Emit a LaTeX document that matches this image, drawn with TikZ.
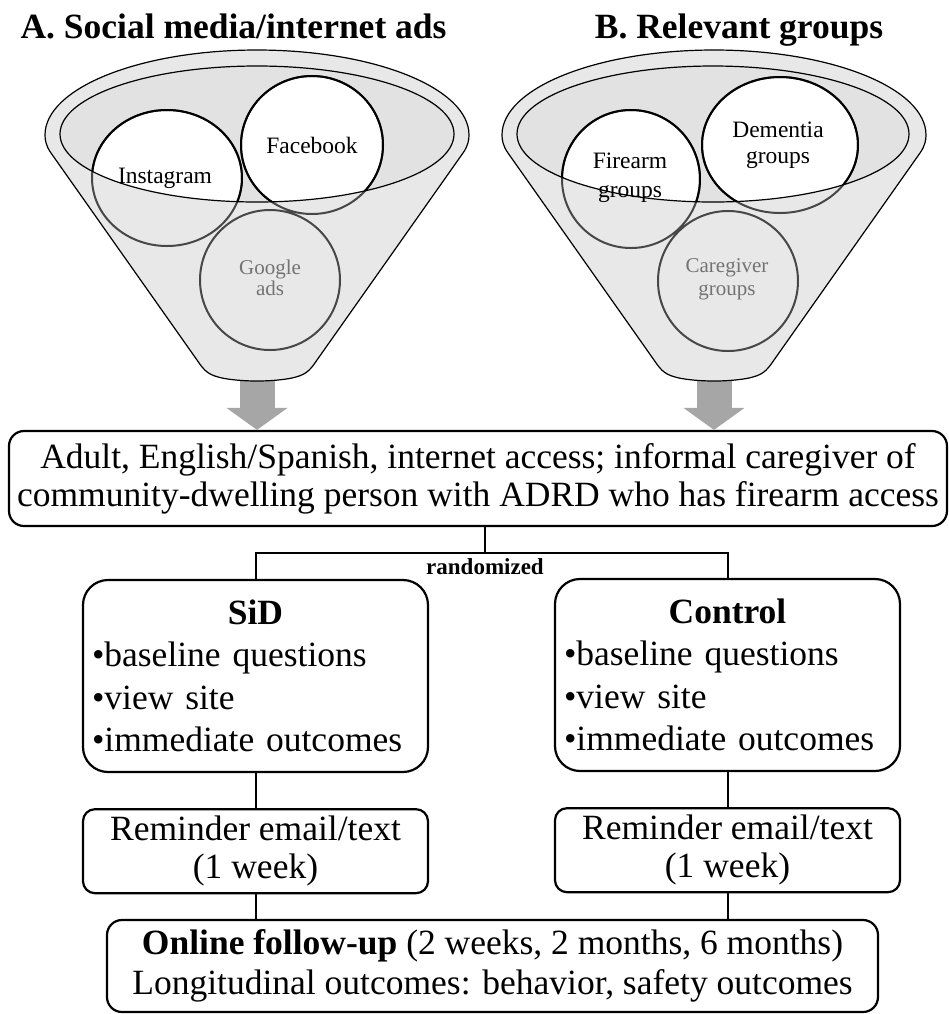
\documentclass[tikz,border=0pt]{standalone}
\usepackage{fontspec}
\setmainfont{Liberation Serif}
\usepackage{xcolor}
\usepackage{tikz}
\usetikzlibrary{positioning}
\usetikzlibrary{calc}
\usetikzlibrary{arrows.meta}
\definecolor{funnelgray}{gray}{0.91}
\definecolor{bowlgray}{gray}{0.885}
\definecolor{arrowgray}{gray}{0.65}
\definecolor{ringgray}{gray}{0.28}
\definecolor{labelgray}{gray}{0.45}
\tikzset{
	box/.style={
		draw, line width=1.1pt, fill=white, inner sep=0pt, align=center,
		font=\fontsize{17.75}{19}\selectfont
	},
	mainbox/.style={
		box, rounded corners=7.5pt, minimum width=469pt, minimum height=47.5pt
	},
	armbox/.style={
		box, rounded corners=12.5pt, minimum width=172.5pt, minimum height=96pt,
		text width=163.5pt, align=left, font=\fontsize{17.75}{21.25}\selectfont
	},
	remindbox/.style={
		box, rounded corners=6pt, minimum width=172.5pt, minimum height=42pt,
		font=\fontsize{17.75}{18.75}\selectfont
	},
	followbox/.style={
		box, rounded corners=7.5pt, minimum width=385.5pt, minimum height=46pt,
		font=\fontsize{17.75}{20}\selectfont
	},
	link/.style={
		draw, line width=1pt
	},
	feed/.style={
		draw=arrowgray, line width=17.5pt, -{Triangle[length=11pt, width=30pt]}
	},
	title/.style={
		font=\fontsize{17.75}{19}\selectfont\bfseries, anchor=base, inner sep=0pt
	},
	funnel/.style={
		draw, line width=0.6pt, fill=funnelgray
	},
	bowl/.style={
		draw, line width=0.6pt
	},
	ring/.style={
		draw=ringgray, line width=1pt
	},
	source/.style={
		font=\fontsize{11.75}{14}\selectfont, align=center, inner sep=0pt
	},
	minor/.style={
		source, text=labelgray, font=\fontsize{10.5}{10.5}\selectfont
	}
}
% outline of one funnel, centred on x=0
\def\funnelshape{(-212,135) arc[start angle=180, end angle=360, x radius=212, y radius=85]
	.. controls (212,140) and (211,146) .. (206,153)
	-- (60,360) .. controls (52,372) and (48,375) .. (35,378)
	.. controls (15,382) and (-15,382) .. (-35,378)
	.. controls (-48,375) and (-52,372) .. (-60,360)
	-- (-206,153) .. controls (-211,146) and (-212,140) .. cycle}

\begin{document}
\begin{tikzpicture}[x=0.5pt, y=-0.5pt]
\useasboundingbox (0,0) rectangle (949,1014);

% recruitment and study flow
\node[mainbox] (elig) at (478,478.5) {Adult, English/Spanish, internet access; informal caregiver of\\community-dwelling person with ADRD who has firearm access};

\node[armbox] (sid) at (255.5,676) {{\centering\textbf{SiD}\par}\textbullet baseline questions\\\textbullet view site\\\textbullet immediate outcomes};
\node[armbox] (ctrl) at (727.5,675) {{\centering\textbf{Control}\par}\textbullet baseline questions\\\textbullet view site\\\textbullet immediate outcomes};

\node[remindbox, below=17.5pt of sid] (remsid) {Reminder email/text\\(1 week)};
\node[remindbox, below=17.5pt of ctrl] (remctrl) {Reminder email/text\\(1 week)};

\node[followbox] (follow) at (492.5,966) {\textbf{Online follow-up} (2 weeks, 2 months, 6 months)\\Longitudinal outcomes: behavior, safety outcomes};

\coordinate (split) at (485,553);
\draw[link] (elig.south -| split) -- (split);
\draw[link] (sid.north) |- (split) -| (ctrl.north);
\node[font=\fontsize{11.5}{12}\selectfont\bfseries, anchor=base, inner sep=0pt] (rand) at (485,574) {randomized};

\draw[link] (sid.south) -- (remsid.north);
\draw[link] (ctrl.south) -- (remctrl.north);
\draw[link] (remsid.south) -- (remsid.south |- follow.north);
\draw[link] (remctrl.south) -- (remctrl.south |- follow.north);

% gray arrows out of the funnels
\coordinate (mouthA) at (257,372);
\coordinate (mouthB) at (714,372);
\draw[feed] (mouthA) -- (mouthA |- elig.north);
\draw[feed] (mouthB) -- (mouthB |- elig.north);

% funnel A
\draw[funnel, shift={(257,0)}] \funnelshape;
\fill[bowlgray] (257,134) ellipse [x radius=197, y radius=68];
\begin{scope}
	\clip (257,134) ellipse [x radius=197, y radius=68];
	\fill[white] (167,178) ellipse [x radius=75, y radius=68] (312,145) ellipse [x radius=71, y radius=69];
\end{scope}
\draw[ring] (167,178) ellipse [x radius=75, y radius=68] (312,145) ellipse [x radius=71, y radius=69] (270,280) circle [radius=70];
\begin{scope}
	\clip (257,134) ellipse [x radius=197, y radius=68];
	\draw[ring, draw=black] (167,178) ellipse [x radius=75, y radius=68] (312,145) ellipse [x radius=71, y radius=69];
\end{scope}
\draw[bowl] (257,134) ellipse [x radius=197, y radius=68];

\node[source] (insta) at (165,178) {Instagram};
\node[source] (fb) at (312,145) {Facebook};
\node[minor] (gads) at (270,278) {Google\\ads};

% funnel B
\draw[funnel, shift={(714,0)}] \funnelshape;
\fill[bowlgray] (713,134) ellipse [x radius=196, y radius=68];
\begin{scope}
	\clip (713,134) ellipse [x radius=196, y radius=68];
	\fill[white] (631,179) circle [radius=69] (780,145) ellipse [x radius=78, y radius=68];
\end{scope}
\draw[ring] (631,179) circle [radius=69] (780,145) ellipse [x radius=78, y radius=68] (728,281) circle [radius=70];
\begin{scope}
	\clip (713,134) ellipse [x radius=196, y radius=68];
	\draw[ring, draw=black] (631,179) circle [radius=69] (780,145) ellipse [x radius=78, y radius=68];
\end{scope}
\draw[bowl] (713,134) ellipse [x radius=196, y radius=68];

\node[source, font=\fontsize{11.75}{14.5}\selectfont] (fire) at (630,177.5) {Firearm\\groups};
\node[source, font=\fontsize{11.75}{13}\selectfont] (dem) at (778,145) {Dementia\\groups};
\node[minor, font=\fontsize{10.5}{11.5}\selectfont] (care) at (727,279) {Caregiver\\groups};

% headings
\node[title] (titleA) at (233.5,38) {A. Social media/internet ads};
\node[title] (titleB) at (739,38) {B. Relevant groups};

\end{tikzpicture}
\end{document}
